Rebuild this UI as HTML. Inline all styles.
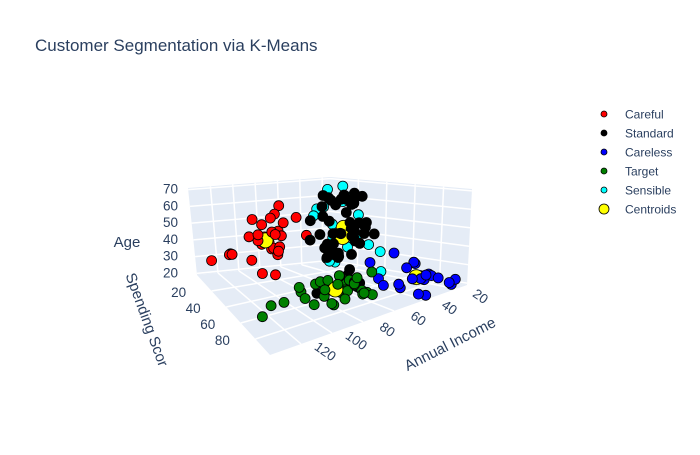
<!DOCTYPE html>
<html><head><meta charset="utf-8"><style>
body{margin:0;background:#fff;font-family:"Liberation Sans",Arial,sans-serif}
svg text{font-family:"Liberation Sans",Arial,sans-serif;fill:#2a3f5f}
</style></head><body>
<svg id="chart" width="700" height="450" viewBox="0 0 700 450" xmlns="http://www.w3.org/2000/svg">
<rect width="700" height="450" fill="#fff"/>
<text x="35" y="51" font-size="17">Customer Segmentation via K-Means</text>
<g id="scene"></g>
<g id="legend"></g>
</svg>
<script>
const clusterNames=["Careful","Standard","Careless","Target","Sensible"];
const clusterColors=["red","black","blue","green","cyan"];
const incomeData=[
[71,71,73,73,74,75,77,78,78,78,78,78,79,81,85,86,87,87,87,88,88,93,97,98,99,101,103,113,120,126,137],
[40,40,40,42,42,43,43,43,44,46,46,47,48,48,48,48,49,49,50,54,54,54,54,54,54,57,57,58,59,59,60,60,60,61,62,62,62,63,63,63,64,65,65,65,67,67,67,69,70,71,72,73,74,75,76,54,58,63,46,50],
[15,16,17,18,19,20,21,23,24,25,28,28,29,30,33,33,34,37,38,39,39,40],
[69,70,71,71,72,73,73,74,75,76,77,78,78,78,78,78,79,81,85,86,87,87,87,88,88,93,97,98,99,101,103,103,113,120,126,137,71,77,79],
[15,16,17,18,19,19,20,20,21,23,24,25,28,28,29,30,33,33,34,37,38,39]];
const spendingData=[
[35,11,5,7,10,5,12,22,17,20,16,1,35,5,26,20,27,13,10,15,1,14,32,15,39,24,17,8,16,28,18],
[42,47,48,52,60,54,45,41,50,46,51,59,55,47,42,48,56,52,46,55,57,46,58,55,60,55,41,46,51,59,42,52,48,47,41,59,50,56,42,46,55,43,52,58,45,49,59,51,57,47,50,56,42,49,44,53,46,54,49,52],
[81,77,76,94,72,99,77,98,73,73,82,61,87,73,92,81,73,75,92,65,61,55],
[91,77,95,75,75,71,88,73,72,93,87,97,74,90,88,76,89,78,83,75,92,75,63,86,69,90,86,88,97,68,85,69,91,79,74,83,90,73,83],
[39,6,40,6,3,14,15,13,35,29,35,5,14,32,31,4,4,14,17,26,35,36]];
const ageData=[
[47,59,32,33,54,36,19,52,46,44,32,34,58,47,40,47,38,39,20,43,25,41,59,54,52,48,45,33,36,41,35],
[68,18,67,47,48,51,49,64,53,63,18,55,43,27,68,50,19,49,59,48,47,67,70,38,23,27,66,48,19,57,68,50,65,49,40,70,38,51,18,56,38,70,45,21,59,19,40,38,43,50,66,47,57,19,47,22,65,40,43,65],
[21,22,23,20,22,24,21,23,30,31,24,35,27,29,18,25,19,22,20,20,23,31],
[39,31,29,31,32,28,30,32,32,30,35,32,35,38,34,27,35,30,39,32,30,35,30,36,33,28,32,36,32,30,29,33,36,32,30,30,29,27,30],
[19,20,31,35,64,67,58,37,35,52,46,54,45,40,60,53,49,25,24,42,36,65]];
const incomeTicks=[20,40,60,80,100,120];
const spendingTicks=[20,40,60,80];
const ageTicks=[20,30,40,50,60,70];

const incRange=[13,140], spRange=[0,100], ageRange=[19,71];
const botC={B:[330,262],L:[197,275],F:[270,355],R:[467,285]};
const topC={B:[330,177],L:[188,188],F:[274,240],R:[472,189]};
function bil(c,u,v){const k=[(1-u)*(1-v),u*(1-v),u*v,(1-u)*v];
 return [k[0]*c.B[0]+k[1]*c.L[0]+k[2]*c.F[0]+k[3]*c.R[0],k[0]*c.B[1]+k[1]*c.L[1]+k[2]*c.F[1]+k[3]*c.R[1]];}
function pUVW(u,v,w){const a=bil(botC,u,v),b=bil(topC,u,v);return [a[0]+(b[0]-a[0])*w,a[1]+(b[1]-a[1])*w];}
const uS=x=>(x-incRange[0])/(incRange[1]-incRange[0]);
const vS=x=>(x-spRange[0])/(spRange[1]-spRange[0]);
const wS=x=>(x-ageRange[0])/(ageRange[1]-ageRange[0]);
function proj(inc,sp,age){return pUVW(uS(inc),vS(sp),wS(age));}

const NS="http://www.w3.org/2000/svg";
const scene=document.getElementById('scene');
function mk(tag,attrs,parent){const e=document.createElementNS(NS,tag);for(const k in attrs)e.setAttribute(k,attrs[k]);(parent||scene).appendChild(e);return e;}
function poly(pts){return pts.map(p=>p[0].toFixed(1)+','+p[1].toFixed(1)).join(' ');}

let e;
e=mk('polygon',{points:poly([pUVW(0,0,0),pUVW(1,0,0),pUVW(1,1,0),pUVW(0,1,0)]),fill:'#e5ecf6'});


e=mk('polygon',{points:poly([pUVW(0,0,0),pUVW(1,0,0),pUVW(1,0,1),pUVW(0,0,1)]),fill:'#e5ecf6'});


e=mk('polygon',{points:poly([pUVW(0,0,0),pUVW(0,1,0),pUVW(0,1,1),pUVW(0,0,1)]),fill:'#e5ecf6'});


function line(a,b,name){const l=mk('line',{x1:a[0],y1:a[1],x2:b[0],y2:b[1],stroke:'#fff','stroke-width':1.5});
 
 }
incomeTicks.forEach(t=>{const u=uS(t);line(pUVW(u,0,0),pUVW(u,1,0),'income-gridline');line(pUVW(u,0,0),pUVW(u,0,1),'income-gridline');});
spendingTicks.forEach(t=>{const v=vS(t);line(pUVW(0,v,0),pUVW(1,v,0),'spending-gridline');line(pUVW(0,v,0),pUVW(0,v,1),'spending-gridline');});
ageTicks.forEach(t=>{const w=wS(t);line(pUVW(0,0,w),pUVW(1,0,w),'age-gridline');line(pUVW(0,0,w),pUVW(0,1,w),'age-gridline');});

function txt(x,y,s,attrs,name){const t=mk('text',Object.assign({x:x,y:y,'font-size':13.5},attrs||{}));t.textContent=s;
 
 return t;}
incomeTicks.forEach(t=>{const p=pUVW(uS(t),1,0);txt(p[0]+24,p[1]+12,t,{'text-anchor':'middle',transform:`rotate(35 ${p[0]+24} ${p[1]+8})`},'income-tick-label');});
spendingTicks.forEach(t=>{const p=pUVW(1,vS(t),0);txt(p[0]-33,p[1]+6,t,{'text-anchor':'middle'},'spending-tick-label');});
ageTicks.forEach(t=>{const p=pUVW(1,0,wS(t));txt(178,p[1]+4,t,{'text-anchor':'end'},'age-tick-label');});
txt(450,349,'Annual Income',{'font-size':15,'text-anchor':'middle',transform:'rotate(-27 450 344)'},'x-axis-title');
txt(146,324,'Spending Scor',{'font-size':15,'text-anchor':'middle',transform:'rotate(70 146 320)'},'y-axis-title');
txt(127,247,'Age',{'font-size':15,'text-anchor':'middle'},'z-axis-title');

const pts=[];
incomeData.forEach((arr,c)=>arr.forEach((inc,i)=>{pts.push({c:c,inc:inc,sp:spendingData[c][i],age:ageData[c][i],cent:false});}));
const mean=a=>a.reduce((s,x)=>s+x,0)/a.length;
clusterNames.forEach((n,c)=>pts.push({c:c,inc:mean(incomeData[c]),sp:mean(spendingData[c]),age:mean(ageData[c]),cent:true}));
pts.sort((a,b)=>(uS(a.inc)+vS(a.sp))-(uS(b.inc)+vS(b.sp)));
pts.forEach(p=>{const s=proj(p.inc,p.sp,p.age);
 const m=mk('circle',{cx:s[0].toFixed(1),cy:s[1].toFixed(1),r:p.cent?7.5:5,fill:p.cent?'yellow':clusterColors[p.c],stroke:'#000','stroke-width':0.8});
 
 });

const leg=document.getElementById('legend');
const legNames=clusterNames.concat(['Centroids']);
const legColors=clusterColors.concat(['yellow']);
legNames.forEach((n,i)=>{const y=114+i*19;
 const g=mk('g',{},leg);
 
 
 mk('circle',{cx:604,cy:y,r:i==5?5:3,fill:legColors[i],stroke:'#000','stroke-width':0.8},g);
 const t=mk('text',{x:625,y:y+4.5,'font-size':12},g);t.textContent=n;});
</script>
</body></html>
